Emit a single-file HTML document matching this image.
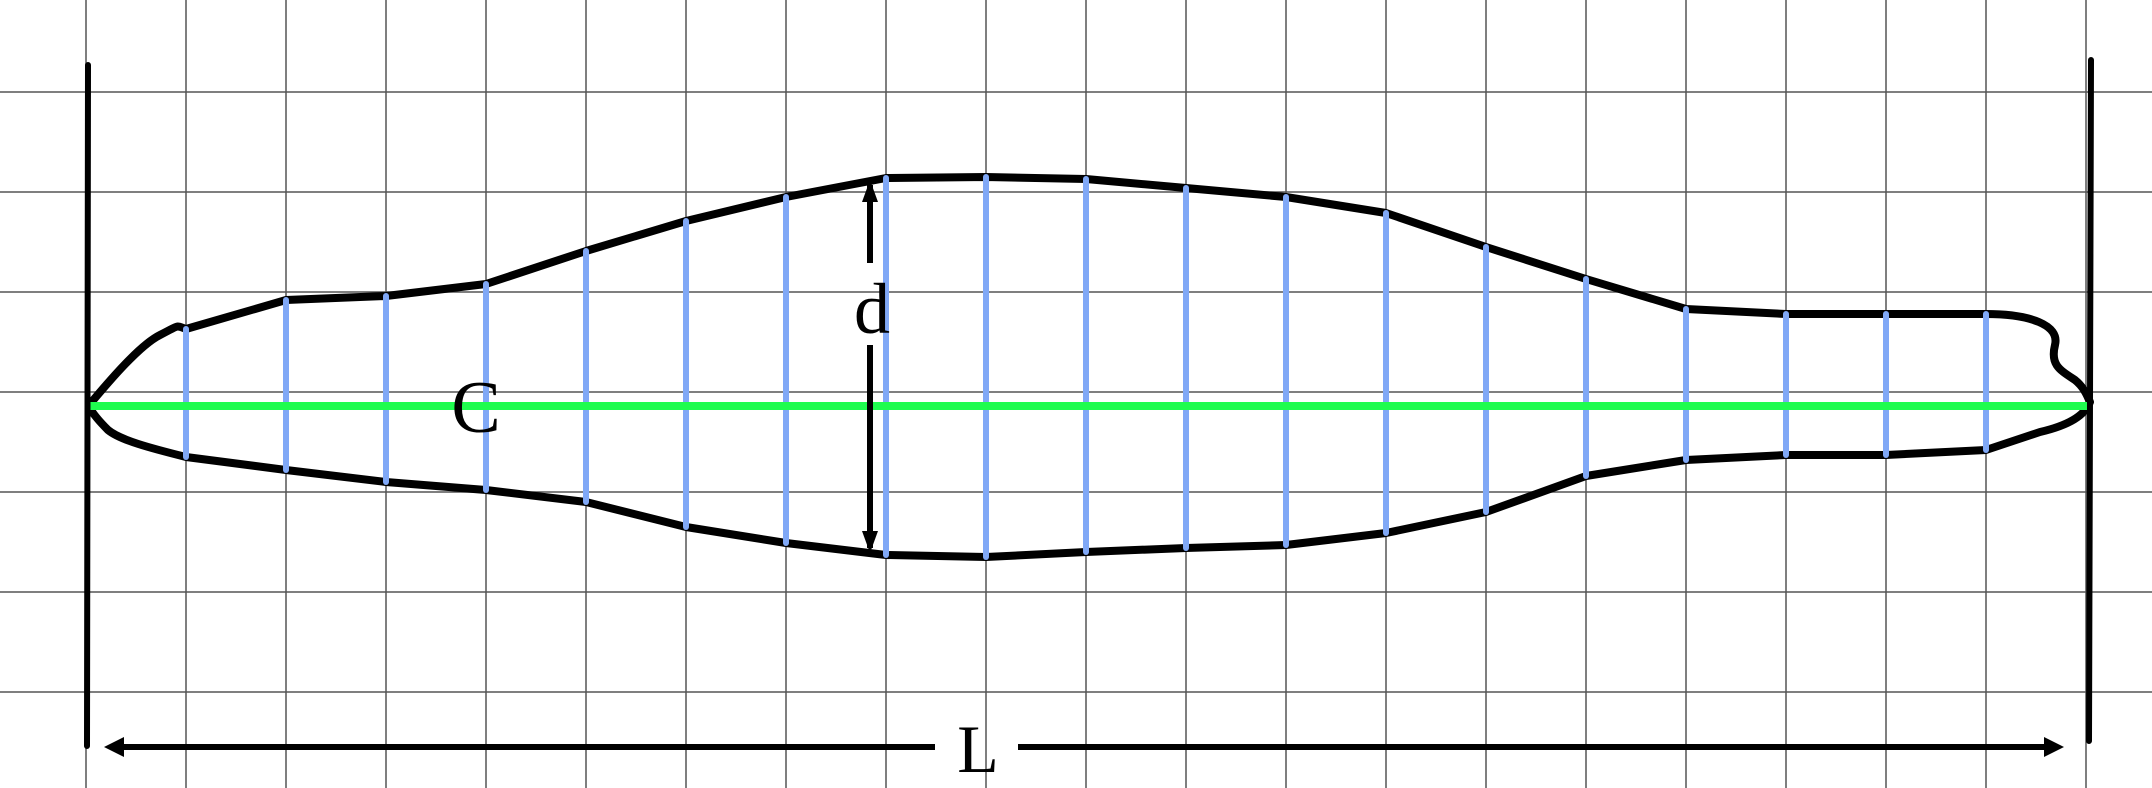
<!DOCTYPE html>
<html><head><meta charset="utf-8"><style>
html,body{margin:0;padding:0;background:#fff;}
svg{display:block;}
</style></head><body>
<svg id="chart" width="2152" height="788" viewBox="0 0 2152 788" xmlns="http://www.w3.org/2000/svg">
<g id="grid"></g>
<g id="outline"></g>
<g id="blues"></g>
<line x1="86" y1="406" x2="2088" y2="406" stroke="#1ffc4f" stroke-width="8"/>
<line x1="88" y1="65" x2="87" y2="746" stroke="#000" stroke-width="6" stroke-linecap="round"/>
<line x1="2091" y1="60" x2="2089" y2="741" stroke="#000" stroke-width="6" stroke-linecap="round"/>
<g>
<line x1="115" y1="747" x2="935" y2="747" stroke="#000" stroke-width="6"/>
<line x1="1018" y1="747" x2="2050" y2="747" stroke="#000" stroke-width="6"/>
<polygon points="104,747 124,737 124,757" fill="#000"/>
<polygon points="2064,747 2044,737 2044,757" fill="#000"/>
<text x="978" y="772" font-family="Liberation Serif, serif" font-size="68" text-anchor="middle">L</text>
</g>
<g>
<line x1="870" y1="185" x2="870" y2="263" stroke="#000" stroke-width="6"/>
<line x1="870" y1="345" x2="870" y2="548" stroke="#000" stroke-width="6"/>
<polygon points="870,180 862,202 878,202" fill="#000"/>
<polygon points="870,553 862,531 878,531" fill="#000"/>
<text x="872" y="333" font-family="Liberation Serif, serif" font-size="72" text-anchor="middle">d</text>
</g>
<text x="476" y="432" font-family="Liberation Serif, serif" font-size="74" text-anchor="middle">C</text>
</svg>
<script>
const stations = [186,286,386,486,586,686,786,886,986,1086,1186,1286,1386,1486,1586,1686,1786,1886,1986];
const upperY = [329,300,296,284,251,221,197,178,177,179,188,197,213,247,279,309,314,314,314];
const lowerY = [457,470,482,490,502,527,543,555,557,552,548,545,533,512,476,460,455,455,450];
const gridX = [86,186,286,386,486,586,686,786,886,986,1086,1186,1286,1386,1486,1586,1686,1786,1886,1986,2086];
const gridY = [92,192,292,392,492,592,692];
const NS='http://www.w3.org/2000/svg';
const grid=document.getElementById('grid');
gridX.forEach(x=>{const l=document.createElementNS(NS,'line');


l.setAttribute('x1',x);l.setAttribute('x2',x);l.setAttribute('y1',0);l.setAttribute('y2',788);
l.setAttribute('stroke','#555');l.setAttribute('stroke-width','1.5');grid.appendChild(l);});
gridY.forEach(y=>{const l=document.createElementNS(NS,'line');


l.setAttribute('x1',0);l.setAttribute('x2',2152);l.setAttribute('y1',y);l.setAttribute('y2',y);
l.setAttribute('stroke','#555');l.setAttribute('stroke-width','1.5');grid.appendChild(l);});
let d='M90,404 C110,380 140,345 160,335 S175,325 '+stations[0]+','+upperY[0];
for(let i=1;i<stations.length;i++) d+=' L'+stations[i]+','+upperY[i];
d+=' C2030,314 2060,325 2055,345 C2050,365 2060,370 2075,380 C2085,388 2088,398 2090,402';
d+=' C2085,415 2070,425 2040,432 L'+stations[stations.length-1]+','+lowerY[lowerY.length-1];
for(let i=stations.length-2;i>=0;i--) d+=' L'+stations[i]+','+lowerY[i];
d+=' C150,448 120,440 108,430 C98,420 92,412 90,408 Z';
const p=document.createElementNS(NS,'path');


p.setAttribute('d',d);p.setAttribute('fill','none');p.setAttribute('stroke','#000');
p.setAttribute('stroke-width','8');p.setAttribute('stroke-linejoin','round');
document.getElementById('outline').appendChild(p);
const blues=document.getElementById('blues');
stations.forEach((x,i)=>{const l=document.createElementNS(NS,'line');


l.setAttribute('x1',x);l.setAttribute('x2',x);l.setAttribute('y1',upperY[i]);l.setAttribute('y2',lowerY[i]);
l.setAttribute('stroke','#80a8f6');l.setAttribute('stroke-width','6');l.setAttribute('stroke-linecap','round');
blues.appendChild(l);});
</script>
</body></html>
